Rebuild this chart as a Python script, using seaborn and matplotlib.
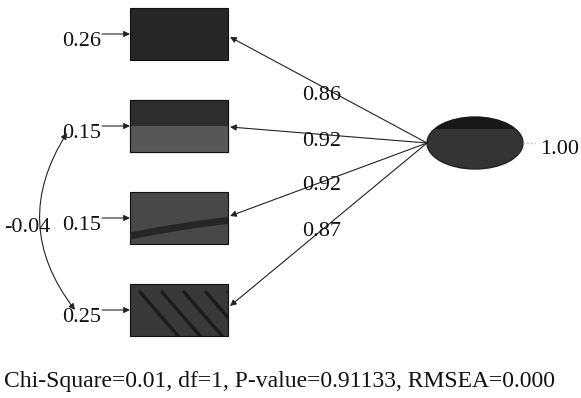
import numpy as np
import seaborn as sns
import matplotlib.pyplot as plt
from matplotlib.patches import Rectangle, Ellipse, FancyArrowPatch

sns.set_theme(style="white")
plt.rcParams['font.family'] = ['Liberation Serif', 'DejaVu Serif']

# path diagram values
loadings = [0.86, 0.92, 0.92, 0.87]
error_vars = [0.26, 0.15, 0.15, 0.25]
factor_var = 1.00
error_cov = -0.04
fit_text = "Chi-Square=0.01, df=1, P-value=0.91133, RMSEA=0.000"

# layout (pixel coords of a 581x398 canvas)
box_top = [8, 100, 192, 284]
box_h = 52
box_x0, box_x1 = 130, 228
box_cols = ['#262626', '#2e2e2e', '#484848', '#393939']
ell_c = (475, 143)
ell_w, ell_h = 96, 52
load_lbl_y = [95, 142, 186, 232]
load_tip_y = [37, 127, 216, 306]

fig = plt.figure(figsize=(5.81, 3.98), dpi=100)
ax = fig.add_axes([0, 0, 1, 1])
ax.set_xlim(0, 581)
ax.set_ylim(398, 0)
ax.axis('off')

arrow_kw = dict(arrowstyle='-|>', mutation_scale=9, color='#222222', lw=0.8,
                shrinkA=0, shrinkB=0)
fs = 16

boxes = []
for i in range(len(loadings)):
    y0 = box_top[i]
    ymid = y0 + box_h / 2
    r = Rectangle((box_x0, y0), box_x1 - box_x0, box_h,
                  facecolor=box_cols[i], edgecolor='#111111', lw=0.8, zorder=2)
    ax.add_patch(r)
    boxes.append(r)
    # error term
    ax.text(101, ymid + 7, f"{error_vars[i]:.2f}", fontsize=fs, ha='right', va='center', color='#111111')
    ax.add_patch(FancyArrowPatch((102, ymid), (box_x0, ymid), **arrow_kw, zorder=3))
    # loading path
    ax.add_patch(FancyArrowPatch((ell_c[0] - ell_w / 2, ell_c[1]), (box_x1 + 2, load_tip_y[i]),
                                 **arrow_kw, zorder=3))
    ax.text(302, load_lbl_y[i], f"{loadings[i]:.2f}", fontsize=fs, ha='left', va='center', color='#111111')

# lighter lower half of box 2
ax.add_patch(Rectangle((box_x0, box_top[1] + box_h / 2), box_x1 - box_x0, box_h / 2,
                       facecolor='#575757', edgecolor='none', zorder=2.5))
ax.add_patch(Rectangle((box_x0, box_top[1]), box_x1 - box_x0, box_h,
                       facecolor='none', edgecolor='#111111', lw=0.8, zorder=2.6))

# dark streak in box 3, diagonal streaks in box 4
xs = np.linspace(box_x0, box_x1, 20)
streak, = ax.plot(xs, box_top[2] + 44 - (xs - box_x0) * 0.2 + ((xs - box_x0) / 98) ** 2 * 4,
                  color='#262626', lw=5, zorder=2.4)
streak.set_clip_path(boxes[2])
for k in range(5):
    x_start = box_x0 + 10 + k * 22
    ln, = ax.plot([x_start, x_start + 45], [box_top[3] + 8, box_top[3] + 60],
                  color='#1c1c1c', lw=2.5, zorder=2.4)
    ln.set_clip_path(boxes[3])

# latent factor
ell = Ellipse(ell_c, ell_w, ell_h, facecolor='#343434', edgecolor='#222222', zorder=2)
ax.add_patch(ell)
cap = Rectangle((ell_c[0] - ell_w / 2, ell_c[1] - ell_h / 2), ell_w, 12,
                facecolor='#181818', edgecolor='none', zorder=2.1)
ax.add_patch(cap)
cap.set_clip_path(ell)
ax.plot([ell_c[0] + ell_w / 2, 535], [ell_c[1], ell_c[1]], ls=':', color='#bbbbbb', lw=1)
ax.text(540, 149, f"{factor_var:.2f}", fontsize=fs, ha='left', va='center', color='#111111')

# error covariance
ax.add_patch(FancyArrowPatch((67, 133), (75, 310), connectionstyle='arc3,rad=0.35',
                             arrowstyle='<|-|>', mutation_scale=9, color='#222222', lw=0.8,
                             shrinkA=0, shrinkB=0, zorder=3))
ax.text(4, 227, f"{error_cov:.2f}", fontsize=fs, ha='left', va='center', color='#111111')

ax.text(4, 381, fit_text, fontsize=17, ha='left', va='center', color='#111111')

fig.savefig('out.png', dpi=100)
